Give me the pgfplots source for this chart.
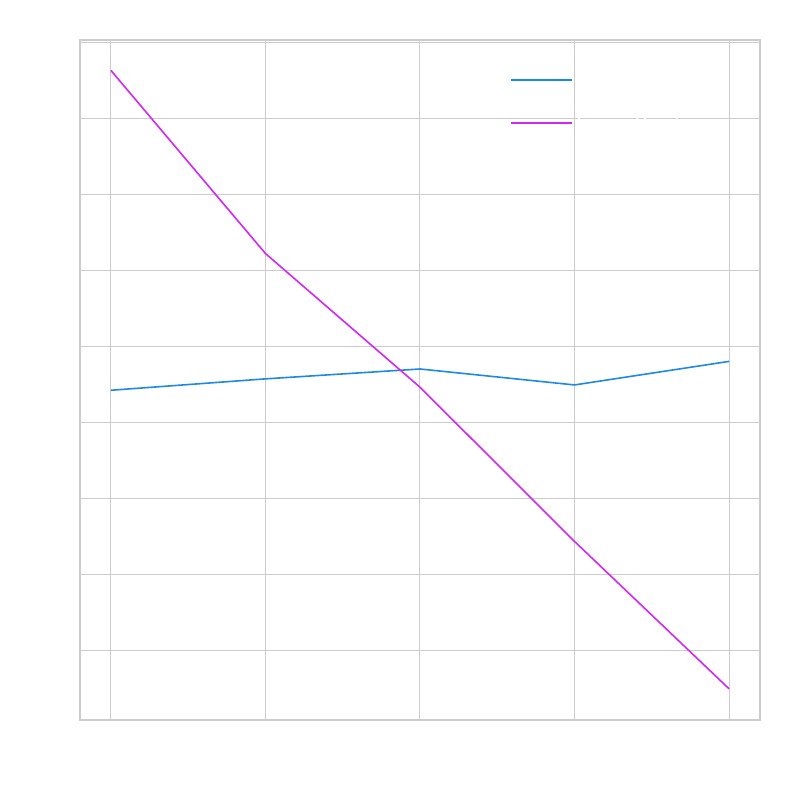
\documentclass[border=0pt]{standalone}
\usepackage{pgfplots}
\pgfplotsset{compat=1.18}
\definecolor{lblue}{RGB}{30,136,229}
\definecolor{lpurple}{RGB}{208,40,245}
\definecolor{gridc}{RGB}{204,204,204}
\begin{document}
\begin{tikzpicture}
\path[use as bounding box] (-40pt,-40pt) rectangle (360pt,360pt);
\begin{axis}[
  at={(0,0)}, anchor=south west,
  scale only axis, width=340pt, height=340pt,
  xmin=-0.2, xmax=4.2, ymin=-0.92, ymax=8.03,
  xtick={0,1,2,3,4}, ytick={0,1,2,3,4,5,6,7,8},
  xticklabels={}, yticklabels={},
  major tick length=0pt,
  grid=major,
  major grid style={gridc, line width=0.5pt},
  axis line style={gridc, line width=0.8pt},
  legend style={draw=none, fill=none, at={(0.623,0.966)}, anchor=north west,
    font=\normalsize, text=white, row sep=9pt},
  legend cell align=left,
  legend image code/.code={\draw[#1, line width=1pt] (0pt,0pt) -- (30.5pt,0pt);},
]
\addplot[lblue, line width=0.8pt] coordinates {(0,3.42) (1,3.57) (2,3.70) (3,3.49) (4,3.80)};
\addlegendentry{Series A}
\addplot[lpurple, line width=0.8pt] coordinates {(0,7.63) (1,5.22) (2,3.46) (3,1.43) (4,-0.51)};
\addlegendentry{Series B value}
\end{axis}
\end{tikzpicture}
\end{document}
